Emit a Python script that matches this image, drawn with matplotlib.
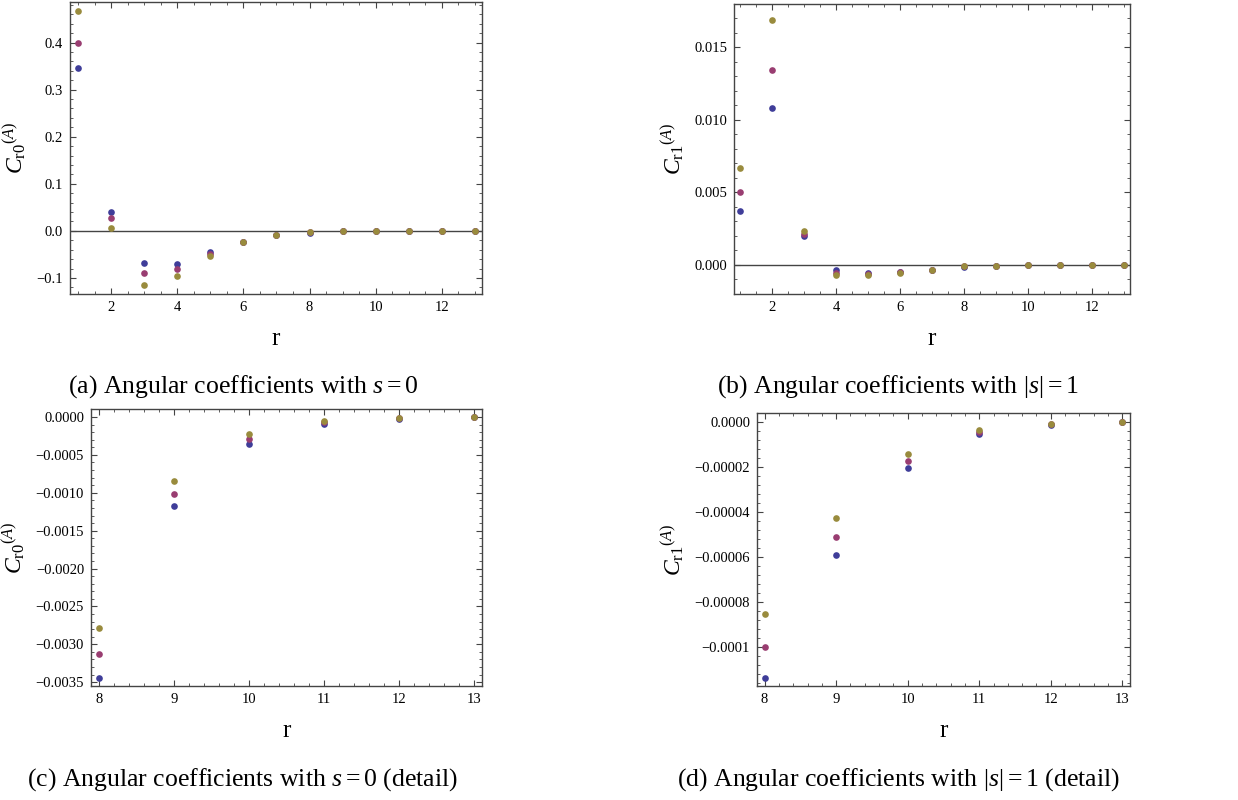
import matplotlib
matplotlib.use("Agg")
import matplotlib.pyplot as plt
from matplotlib.ticker import MultipleLocator, FuncFormatter

plt.rcParams['font.family'] = ['Liberation Serif', 'DejaVu Serif']
plt.rcParams['mathtext.fontset'] = 'custom'
plt.rcParams['mathtext.rm'] = 'Liberation Serif'
plt.rcParams['mathtext.it'] = 'Liberation Serif:italic'

# r values and the three series (blue, magenta, gold) for s = 0 and |s| = 1
r = [1, 2, 3, 4, 5, 6, 7, 8, 9, 10, 11, 12, 13]

c0_blue = [0.345, 0.040, -0.069, -0.070, -0.045, -0.0235, -0.0088, -0.00345,
           -0.00117, -0.00035, -0.00009, -0.00002, -0.000003]
c0_magenta = [0.398, 0.027, -0.089, -0.081, -0.049, -0.0240, -0.0092, -0.00313,
              -0.00101, -0.00029, -0.00007, -0.000017, -0.000002]
c0_gold = [0.466, 0.0065, -0.115, -0.095, -0.053, -0.0245, -0.0095, -0.00279,
           -0.00084, -0.00022, -0.00005, -0.000013, -0.000002]

c1_blue = [0.00375, 0.01085, 0.00200, -0.00037, -0.00053, -0.00048, -0.00035,
           -0.0001135, -0.0000591, -0.0000204, -0.0000055, -0.0000012, -0.0000002]
c1_magenta = [0.00500, 0.01346, 0.00214, -0.00053, -0.00062, -0.00050, -0.00036,
              -0.0000997, -0.0000510, -0.0000172, -0.0000046, -0.0000010, -0.0000002]
c1_gold = [0.00668, 0.01689, 0.00233, -0.00067, -0.00070, -0.00052, -0.00036,
           -0.0000852, -0.0000427, -0.0000141, -0.0000034, -0.0000007, -0.0000001]

d_ticks = [0.0, -0.00002, -0.00004, -0.00006, -0.00008, -0.0001]
d_labels = ['0.0000', '\u22120.00002', '\u22120.00004', '\u22120.00006',
            '\u22120.00008', '\u22120.0001']

captions = [r'(a) Angular coefficients with $s = 0$',
            r'(b) Angular coefficients with $|s| = 1$',
            r'(c) Angular coefficients with $s = 0$ (detail)',
            r'(d) Angular coefficients with $|s| = 1$ (detail)']

colors = ['#3f3d99', '#993d71', '#998b3d']
W, H = 1238, 800


def fmt(decimals):
    def f(v, pos):
        s = f'{v:.{decimals}f}'
        if float(s) == 0:
            s = s.lstrip('-')
        return s.replace('-', '\u2212')
    return FuncFormatter(f)


def make_axes(x0, x1, y0, y1):
    ax = fig.add_axes([x0 / W, 1 - y1 / H, (x1 - x0) / W, (y1 - y0) / H])
    for sp in ax.spines.values():
        sp.set_color('#444444')
        sp.set_linewidth(1.0)
    ax.tick_params(which='both', direction='in', top=True, right=True,
                   color='#444444', labelsize=10.5, pad=5)
    ax.tick_params(which='major', length=4.0, width=0.8)
    ax.tick_params(which='minor', length=2.2, width=0.6)
    return ax


def draw(ax, xs, series):
    for ys, c in zip(series, colors):
        ax.plot(xs, ys, 'o', ms=4.8, mec='none', color=c, clip_on=False, zorder=3)


def labels(ax, ylab):
    ax.set_xlabel('r', fontsize=18, labelpad=10)
    ax.set_ylabel(ylab, fontsize=17, labelpad=6)


fig = plt.figure(figsize=(W / 100, H / 100), dpi=100)

# (a)
ax = make_axes(70, 482, 2, 294)
draw(ax, r, [c0_blue, c0_magenta, c0_gold])
ax.axhline(0, color='#444444', lw=1.0, zorder=1)
ax.set_xlim(0.75, 13.22)
ax.set_ylim(-0.134, 0.486)
ax.xaxis.set_major_locator(MultipleLocator(2))
ax.xaxis.set_minor_locator(MultipleLocator(0.5))
ax.yaxis.set_major_locator(MultipleLocator(0.1))
ax.yaxis.set_minor_locator(MultipleLocator(0.02))
ax.yaxis.set_major_formatter(fmt(1))
labels(ax, r'$C_{\mathrm{r0}}{}^{(A)}$')

# (b)
ax = make_axes(734, 1130, 4, 294)
draw(ax, r, [c1_blue, c1_magenta, c1_gold])
ax.axhline(0, color='#444444', lw=1.0, zorder=1)
ax.set_xlim(0.8, 13.2)
ax.set_ylim(-0.0020, 0.0180)
ax.xaxis.set_major_locator(MultipleLocator(2))
ax.xaxis.set_minor_locator(MultipleLocator(0.5))
ax.yaxis.set_major_locator(MultipleLocator(0.005))
ax.yaxis.set_minor_locator(MultipleLocator(0.001))
ax.yaxis.set_major_formatter(fmt(3))
labels(ax, r'$C_{\mathrm{r1}}{}^{(A)}$')

# (c)
ax = make_axes(91, 482, 409, 686)
draw(ax, r[7:], [c0_blue[7:], c0_magenta[7:], c0_gold[7:]])
ax.set_xlim(7.893, 13.1)
ax.set_ylim(-0.00355, 0.000106)
ax.xaxis.set_major_locator(MultipleLocator(1))
ax.xaxis.set_minor_locator(MultipleLocator(0.2))
ax.yaxis.set_major_locator(MultipleLocator(0.0005))
ax.yaxis.set_minor_locator(MultipleLocator(0.0001))
ax.yaxis.set_major_formatter(fmt(4))
labels(ax, r'$C_{\mathrm{r0}}{}^{(A)}$')

# (d)
ax = make_axes(757, 1130, 413, 686)
draw(ax, r[7:], [c1_blue[7:], c1_magenta[7:], c1_gold[7:]])
ax.set_xlim(7.894, 13.107)
ax.set_ylim(-0.0001172, 0.000004)
ax.xaxis.set_major_locator(MultipleLocator(1))
ax.xaxis.set_minor_locator(MultipleLocator(0.2))
ax.set_yticks(d_ticks)
ax.set_yticklabels(d_labels)
ax.yaxis.set_minor_locator(MultipleLocator(0.000004))
labels(ax, r'$C_{\mathrm{r1}}{}^{(A)}$')

# captions
for txt, (cx, cy) in zip(captions, [(243, 387), (898, 387), (243, 780), (898, 780)]):
    fig.text(cx / W, 1 - cy / H, txt, ha='center', va='center', fontsize=18.5)

fig.savefig('out.png', dpi=100)
